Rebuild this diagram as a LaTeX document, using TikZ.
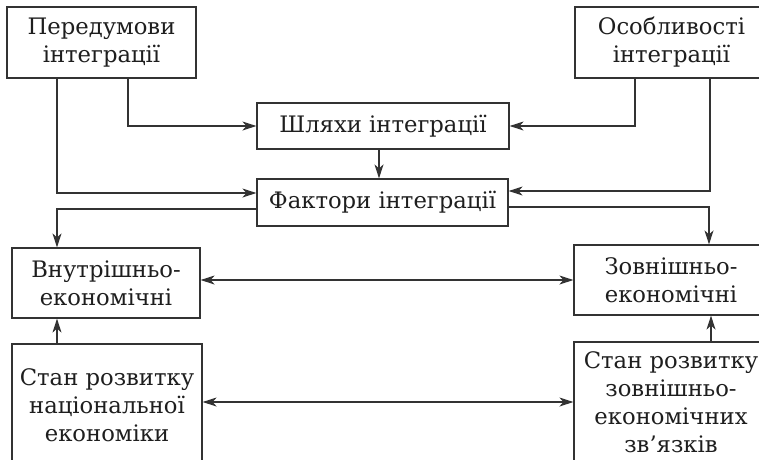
\documentclass[tikz,border=0pt]{standalone}
\usepackage{fontspec}
\setmainfont{DejaVu Serif}
\usetikzlibrary{arrows.meta}
\definecolor{ln}{HTML}{333333}
\definecolor{tx}{HTML}{1e1e1e}
\begin{document}
\begin{tikzpicture}[x=1pt,y=-1pt,
  blk/.style={draw=ln,line width=1.2pt,fill=white,inner sep=0pt,align=center,text=tx,
    font=\fontsize{22.7}{28}\selectfont},
  conn/.style={draw=ln,line width=1.2pt,-{Stealth[length=14pt,width=9pt,inset=4pt]}},
  bconn/.style={draw=ln,line width=1.2pt,{Stealth[length=14pt,width=9pt,inset=4pt]}-{Stealth[length=14pt,width=9pt,inset=4pt]}}]
\useasboundingbox (0,0) rectangle (759,459);
\fill[white] (0,0) rectangle (759,459);
\clip (0,0) rectangle (759,459);
\node[blk,minimum width=189pt,minimum height=71pt] (pre) at (101.5,42.5) {Передумови\\інтеграції};
\node[blk,minimum width=193pt,minimum height=71pt] (osob) at (671.5,42.5) {Особливості\\інтеграції};
\node[blk,minimum width=252pt,minimum height=46pt] (shl) at (383,126) {Шляхи інтеграції};
\node[blk,minimum width=251pt,minimum height=47pt] (fak) at (382.5,202.5) {Фактори інтеграції};
\node[blk,minimum width=188pt,minimum height=70pt] (vnu) at (106,283) {Внутрішньо-\\економічні};
\node[blk,minimum width=194pt,minimum height=70pt] (zov) at (671,280) {Зовнішньо-\\економічні};
\node[blk,minimum width=190pt,minimum height=122pt] (stn) at (107,405) {Стан розвитку\\національної\\економіки};
\node[blk,minimum width=194pt,minimum height=120pt] (stz) at (671,402) {Стан розвитку\\зовнішньо-\\економічних\\зв’язків};
% connectors
\draw[conn] ([xshift=26.5pt]pre.south) |- (shl.west);
\draw[conn] ([xshift=-44.5pt]pre.south) |- ([yshift=9.5pt]fak.west);
\draw[conn] ([yshift=-6.5pt]fak.west) -| ([xshift=-49pt]vnu.north);
\draw[conn] ([xshift=-36.5pt]osob.south) |- (shl.east);
\draw[conn] ([xshift=38.5pt]osob.south) |- ([yshift=11.5pt]fak.east);
\draw[conn] ([yshift=-4.5pt]fak.east) -| ([xshift=38pt]zov.north);
\draw[conn] ([xshift=-4pt]shl.south) -- ([xshift=-4pt]shl.south |- fak.north);
\draw[bconn] (vnu.east |- zov.west) -- (zov.west);
\draw[bconn] (stn.east |- stz.west) -- (stz.west);
\draw[conn] ([xshift=-50pt]stn.north) -- ([xshift=-50pt]stn.north |- vnu.south);
\draw[conn] ([xshift=40pt]stz.north) -- ([xshift=40pt]stz.north |- zov.south);
\end{tikzpicture}
\end{document}
